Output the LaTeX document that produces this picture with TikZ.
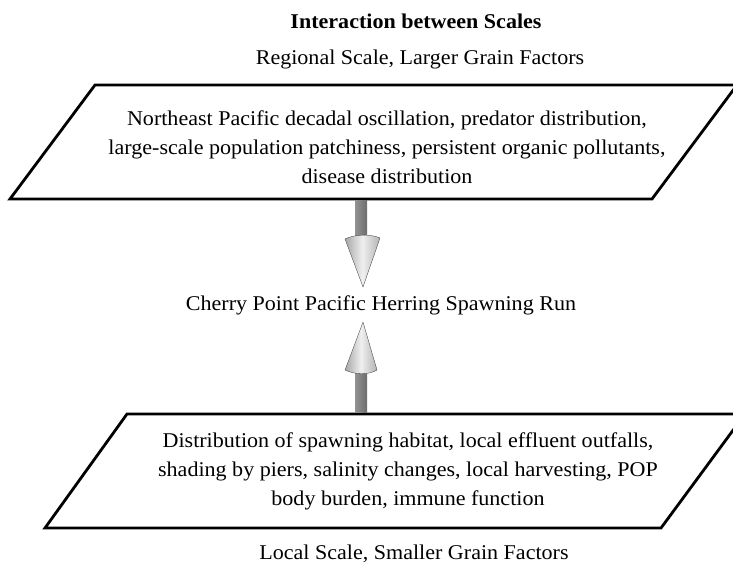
\documentclass[tikz,border=0pt]{standalone}
\usepackage{fontspec}
\setmainfont[FakeStretch=1.05]{Liberation Serif}
\begin{document}
\begin{tikzpicture}[x=1pt,y=-1pt,
  label/.style={font=\fontsize{21}{24}\selectfont, inner sep=0pt},
  block/.style={font=\fontsize{21}{29}\selectfont, align=center, inner sep=0pt},
  frame/.style={line width=2.8pt, line join=miter, fill=white},
  shaft/.style={left color=gray!85, right color=gray!85!black, draw=none},
  cone/.style={left color=gray!70, right color=gray!60, middle color=gray!12, draw=gray!40!black, line width=0.3pt}]
\useasboundingbox (0,0) rectangle (733,569);

% headings
\node[label, font=\bfseries\fontsize{21}{24}\selectfont] (title) at (416,21) {Interaction between Scales};
\node[label] (regional) at (420,59) {Regional Scale, Larger Grain Factors};

% regional block
\draw[frame] (95,85) -- (737,85) -- (652,199) -- (10,199) -- cycle;
\node[block] (top) at (387,147) {Northeast Pacific decadal oscillation, predator distribution,\\
large-scale population patchiness, persistent organic pollutants,\\
disease distribution};

% central label
\node[label] (run) at (381,305) {Cherry Point Pacific Herring Spawning Run};

% local block
\draw[frame] (127,414) -- (745,414) -- (661,528) -- (45,528) -- cycle;
\node[block] (bottom) at (408,471) {Distribution of spawning habitat, local effluent outfalls,\\
shading by piers, salinity changes, local harvesting, POP\\
body burden, immune function};

\node[label] (local) at (414,554) {Local Scale, Smaller Grain Factors};

% downward arrow
\fill[shaft] (355,200.5) rectangle (367,240);
\path[cone] (345,239) .. controls (355,234) and (371,234) .. (380,238) -- (363,287) -- cycle;

% upward arrow
\fill[shaft] (355,368) rectangle (367,412.5);
\path[cone] (345,370) .. controls (355,375) and (369,375) .. (377,370) -- (363,322) -- cycle;
\end{tikzpicture}
\end{document}
